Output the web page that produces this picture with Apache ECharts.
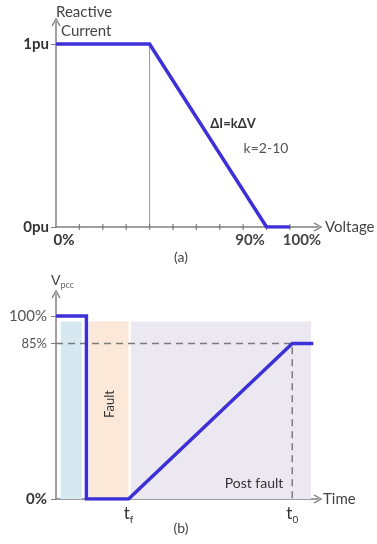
<!DOCTYPE html>
<html><head><meta charset="utf-8">
<script src="https://cdn.jsdelivr.net/npm/echarts@6/dist/echarts.min.js"></script>
<style>html,body{margin:0;padding:0;background:#fff}#c{width:377px;height:544px}</style>
</head><body><div id="c"></div>
<script>
// ---- (a) reactive current vs voltage ----
const aVoltage = [0, 40, 90, 100];
const aCurrent = [1, 1, 0, 0];
const aKneeVoltage = [40, 40];
const aKneeCurrent = [0, 1];
const aTickValues = [10, 20, 30, 40, 50, 60, 70, 80, 90, 100];
const aXLabelValues = [0, 90, 100];
const aXLabelText = {0: '{z|0%}', 90: '{n|90%}', 100: '{h|100%}'};
const aYLabelValues = [0, 1];
// ---- (b) Vpcc vs time ----
const bTime = [0, 13, 13, 31, 101, 110];
const bVpcc = [100, 100, 0, 0, 85, 85];
const bGuideTime = [0, 101, 101];
const bGuideV = [85, 85, 0];
const bYLabelValues = [0, 85, 100];
const bXLabelValues = [31, 101];
const bRegionStart = [2, 14, 32];
const bRegionEnd = [11, 31, 109];
const bRegionTop = 97;

const FONT = 'Lato, "Open Sans", sans-serif';
const BLUE = '#3d30d6';
const AXIS = '#808080';
const ARROW = 'path://M0,9 L5,0 L10,9 L8.8,10 L5,2.8 L1.2,10 Z';
const regionColors = ['#d6e9f1', '#fce8d9', '#ebe8f2'];

const chart = echarts.init(document.getElementById('c'), null, {renderer: 'canvas'});
const axisLine = {show: true, lineStyle: {color: AXIS, width: 1.5}, symbol: ['none', ARROW], symbolSize: [9, 9]};

chart.setOption({
  animation: false,
  backgroundColor: '#fff',
  textStyle: {fontFamily: FONT},
  grid: [
    {left: 56, width: 262, top: 22, height: 205},
    {left: 56, width: 262, top: 294, height: 205}
  ],
  xAxis: [
    {
      gridIndex: 0, type: 'value', min: 0, max: 112,
      axisLine: axisLine, splitLine: {show: false},
      axisTick: {show: false},
      axisLabel: {
        customValues: aXLabelValues, margin: 6,
        formatter: v => aXLabelText[v] || '',
        rich: {
          z: {fontSize: 15, fontWeight: 'bold', color: '#333', fontFamily: FONT, padding: [0, 0, 0, 16]},
          n: {fontSize: 15, fontWeight: 'bold', color: '#444', fontFamily: FONT, padding: [0, 33, 0, 0]},
          h: {fontSize: 15, fontWeight: 'bold', color: '#444', fontFamily: FONT, padding: [0, 0, 0, 24]}
        }
      },
      name: 'Voltage', nameLocation: 'end', nameGap: 5,
      nameTextStyle: {fontSize: 15, color: '#444', fontFamily: FONT, align: 'left', verticalAlign: 'middle'}
    },
    {
      gridIndex: 1, type: 'value', min: 0, max: 112,
      axisLine: axisLine, splitLine: {show: false},
      axisTick: {show: false},
      axisLabel: {
        customValues: bXLabelValues, margin: 5,
        formatter: v => v === 31 ? '{t|t}{s|f}' : '{t|t}{s|0}',
        rich: {
          t: {fontSize: 17, color: '#333', fontFamily: FONT, lineHeight: 18, verticalAlign: 'bottom'},
          s: {fontSize: 10, color: '#333', fontFamily: FONT, verticalAlign: 'bottom', padding: [0, 0, -3, 0]}
        }
      },
      name: 'Time', nameLocation: 'end', nameGap: 5,
      nameTextStyle: {fontSize: 15, color: '#444', fontFamily: FONT, align: 'left', verticalAlign: 'middle'}
    }
  ],
  yAxis: [
    {
      gridIndex: 0, type: 'value', min: 0, max: 1.12,
      axisLine: axisLine, splitLine: {show: false},
      axisTick: {show: true, length: 5, lineStyle: {color: AXIS}, customValues: aYLabelValues},
      axisLabel: {
        customValues: aYLabelValues, margin: 7,
        fontSize: 15, fontWeight: 'bold', color: '#333', fontFamily: FONT,
        formatter: v => v === 1 ? '1pu' : '0pu'
      },
      name: '{r|Reactive}\n{c|Current}', nameLocation: 'end', nameGap: -19,
      nameTextStyle: {
        align: 'left', verticalAlign: 'bottom', fontSize: 15, color: '#444', fontFamily: FONT, lineHeight: 19,
        rich: {
          r: {fontSize: 15, color: '#444', fontFamily: FONT, lineHeight: 19},
          c: {fontSize: 15, color: '#444', fontFamily: FONT, lineHeight: 19, padding: [0, 0, 0, 5]}
        }
      }
    },
    {
      gridIndex: 1, type: 'value', min: 0, max: 112,
      axisLine: axisLine, splitLine: {show: false},
      axisTick: {show: true, length: 5, lineStyle: {color: AXIS}, customValues: bYLabelValues},
      axisLabel: {
        customValues: bYLabelValues, margin: 9,
        formatter: v => v === 100 ? '{h|100%}' : (v === 85 ? '{m|85%}' : '{z|0%}'),
        rich: {
          h: {fontSize: 15, color: '#555', fontFamily: FONT},
          m: {fontSize: 13, color: '#555', fontFamily: FONT},
          z: {fontSize: 15, fontWeight: 'bold', color: '#333', fontFamily: FONT}
        }
      },
      name: '{v|V}{p|pcc}', nameLocation: 'end', nameGap: 7,
      nameTextStyle: {
        align: 'center', verticalAlign: 'bottom',
        rich: {
          v: {fontSize: 14, color: '#444', fontFamily: FONT, lineHeight: 16, padding: [0, 0, 0, 13], verticalAlign: 'bottom'},
          p: {fontSize: 9, color: '#666', fontFamily: FONT, verticalAlign: 'bottom', padding: [0, 0, -3, 0]}
        }
      }
    }
  ],
  series: [
    {
      type: 'scatter', xAxisIndex: 0, yAxisIndex: 0, z: 3, silent: true,
      data: aTickValues.map(v => [v, 0]),
      symbol: 'rect', symbolSize: [1.3, 6], itemStyle: {color: '#6a6a6a'}
    },
    {
      type: 'line', xAxisIndex: 0, yAxisIndex: 0, z: 2,
      data: aKneeVoltage.map((v, i) => [v, aKneeCurrent[i]]),
      symbol: 'none', lineStyle: {color: '#999', width: 1}
    },
    {
      type: 'line', xAxisIndex: 0, yAxisIndex: 0, z: 4,
      data: aVoltage.map((v, i) => [v, aCurrent[i]]),
      symbol: 'none', lineStyle: {color: BLUE, width: 3.5, join: 'miter'}
    },
    {
      type: 'custom', xAxisIndex: 1, yAxisIndex: 1, z: 1,
      data: bRegionStart.map((s, i) => [s, bRegionEnd[i], bRegionTop]),
      encode: {x: [0, 1], y: 2},
      renderItem: (params, api) => {
        const p0 = api.coord([api.value(0), api.value(2)]);
        const p1 = api.coord([api.value(1), 0]);
        return {type: 'rect', shape: {x: p0[0], y: p0[1], width: p1[0] - p0[0], height: p1[1] - p0[1]},
          style: {fill: regionColors[params.dataIndex]}};
      }
    },
    {
      type: 'line', xAxisIndex: 1, yAxisIndex: 1, z: 2,
      data: bGuideTime.map((t, i) => [t, bGuideV[i]]),
      symbol: 'none', lineStyle: {color: '#7a7a7a', width: 1.5, type: [7, 5]}
    },
    {
      type: 'line', xAxisIndex: 1, yAxisIndex: 1, z: 4,
      data: bTime.map((t, i) => [t, bVpcc[i]]),
      symbol: 'none', lineStyle: {color: BLUE, width: 3.5, join: 'miter'}
    }
  ],
  graphic: [
    {type: 'text', z: 100, x: 233, y: 124, style: {text: 'ΔI=kΔV', font: 'bold 13px ' + FONT, fill: '#333', textAlign: 'center', textVerticalAlign: 'middle'}},
    {type: 'text', z: 100, x: 266, y: 148, style: {text: 'k=2-10', font: '14px ' + FONT, fill: '#555', textAlign: 'center', textVerticalAlign: 'middle'}},
    {type: 'text', z: 100, x: 181, y: 257, style: {text: '(a)', font: '14px ' + FONT, fill: '#444', textAlign: 'center', textVerticalAlign: 'middle'}},
    {type: 'text', z: 100, x: 181, y: 528, style: {text: '(b)', font: '14px ' + FONT, fill: '#444', textAlign: 'center', textVerticalAlign: 'middle'}},
    {type: 'text', z: 100, x: 110, y: 404, rotation: Math.PI / 2, style: {text: 'Fault', font: '13px ' + FONT, fill: '#333', textAlign: 'center', textVerticalAlign: 'middle'}},
    {type: 'text', z: 100, x: 254, y: 483, style: {text: 'Post fault', font: '14px ' + FONT, fill: '#333', textAlign: 'center', textVerticalAlign: 'middle'}}
  ]
});
</script>
</body></html>
